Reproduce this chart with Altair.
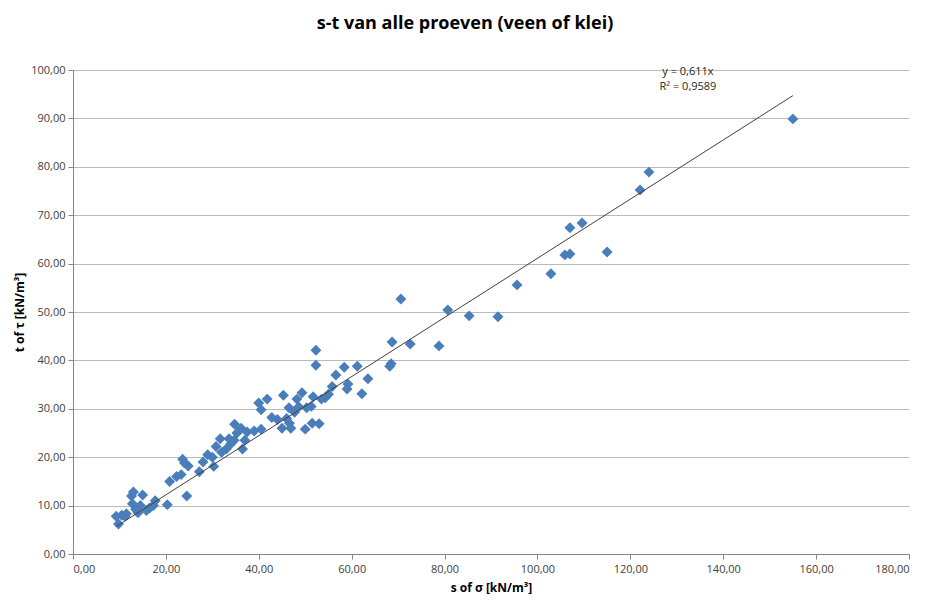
import altair as alt
import pandas as pd

sigma = [155, 124, 122.1, 115, 109.6, 107, 107, 105.9, 102.9, 95.6, 91.5, 85.3, 80.7, 78.8,
         72.6, 70.6, 68.7, 68.5, 68.2, 63.5, 62.2, 61.2, 59.2, 59, 58.4, 56.6, 55.8, 55, 54.3,
         53.5, 52.3, 52.3, 53, 51.5, 51.7, 51.3, 50.3, 50, 49.3, 48.6, 48.2, 47.7, 46.9, 46.5,
         46.6, 46, 45.3, 45, 44, 42.8, 41.8, 40.5, 40.5, 40, 39, 37.5, 37, 36.5, 36.2, 35.3,
         34.8, 34.7, 34, 33.6, 33, 32, 31.7, 30.8, 30.3, 30, 29, 28, 27.2, 24.8, 24.5, 24,
         23.6, 23.3, 22.3, 20.8, 20.3, 17.7, 17.3, 16.5, 15.8, 15, 14.5, 14, 13.5, 13, 12.6,
         12.8, 11.5, 11.2, 10.5, 9.8, 9.3]
tau = [89.9, 78.9, 75.2, 62.4, 68.4, 67.4, 62, 61.8, 57.9, 55.6, 49, 49.2, 50.4, 43,
       43.4, 52.7, 43.8, 39.3, 38.8, 36.2, 33.1, 38.8, 35.1, 34.1, 38.6, 37, 34.6, 33, 32.3,
       32, 42.1, 39, 26.9, 27, 32.5, 30.5, 30.2, 25.8, 33.3, 30.4, 32, 29.3, 26, 30.2,
       27, 28, 32.8, 26, 27.8, 28.2, 32, 25.8, 29.8, 31.2, 25.4, 25.2, 23.5, 21.7, 26, 25,
       26.8, 23.5, 22.8, 23.8, 21.7, 21, 23.8, 22.2, 18.1, 20, 20.5, 19, 17, 18.2, 12, 18.8,
       19.6, 16.4, 16, 15, 10.2, 11, 10, 9.5, 9, 12.2, 10, 8.5, 9.2, 12.8, 12,
       10.4, 8.3, 7.8, 8, 6.2, 7.8]

slope = 0.611
trend_x = [min(sigma), max(sigma)]
trend_y = [slope * v for v in trend_x]
eq_lines = ["y = 0,611x", "R² = 0,9589"]

pts = pd.DataFrame({"s": sigma, "t": tau})
trend = pd.DataFrame({"s": trend_x, "t": trend_y})
ann = pd.DataFrame({"txt": eq_lines, "s": [132.4, 132.4], "t": [99.6, 96.4]})

fmt = "replace(format(datum.value, '.2f'), '.', ',')"

xscale = alt.Scale(domain=[0, 180], nice=False)
yscale = alt.Scale(domain=[0, 100], nice=False)

xaxis = alt.Axis(values=list(range(0, 181, 20)), labelExpr=fmt, grid=False,
                 title="s of σ [kN/m³]", titleFont="Open Sans", titleFontSize=12,
                 titleFontWeight="bold", titleColor="#000", titlePadding=8,
                 labelFont="Open Sans", labelFontSize=11, labelColor="#404040",
                 labelPadding=4, domainColor="#868686", tickColor="#868686", tickSize=5)
yaxis = alt.Axis(values=list(range(0, 101, 10)), labelExpr=fmt, grid=True,
                 gridColor="#bababa", title="t of τ [kN/m³]", titleFont="Open Sans",
                 titleFontSize=12, titleFontWeight="bold", titleColor="#000",
                 titlePadding=4, labelFont="Open Sans", labelFontSize=11,
                 labelColor="#404040", labelPadding=3, domainColor="#868686",
                 tickColor="#868686", tickSize=5)

points = alt.Chart(pts).mark_point(shape="diamond", filled=True, size=120,
                                   color="#4a7ebb", opacity=1).encode(
    x=alt.X("s:Q", scale=xscale, axis=xaxis),
    y=alt.Y("t:Q", scale=yscale, axis=yaxis),
)

line = alt.Chart(trend).mark_line(color="#404040", strokeWidth=1).encode(
    x=alt.X("s:Q", scale=xscale),
    y=alt.Y("t:Q", scale=yscale),
)

text = alt.Chart(ann).mark_text(font="Open Sans", fontSize=11, color="#262626").encode(
    x=alt.X("s:Q", scale=xscale),
    y=alt.Y("t:Q", scale=yscale),
    text="txt:N",
)

chart = (points + line + text).properties(
    width=836, height=484,
    autosize=alt.AutoSizeParams(type="none"),
    padding={"left": 65, "top": 62, "right": 12, "bottom": 40},
    title=alt.TitleParams("s-t van alle proeven (veen of klei)", font="Open Sans",
                          fontSize=18, fontWeight="bold", color="#000", anchor="middle",
                          dx=-26, offset=31),
).configure_view(stroke=None)

chart.save("out.html", embed_options={"renderer": "svg", "actions": False})
